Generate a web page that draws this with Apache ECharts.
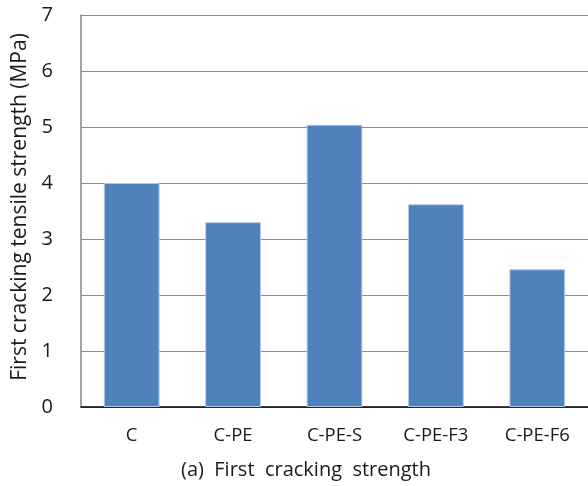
<!DOCTYPE html>
<html>
<head>
<meta charset="utf-8">
<script src="https://cdn.jsdelivr.net/npm/echarts@6/dist/echarts.min.js"></script>
<style>
  html, body { margin: 0; padding: 0; background: #fff; }
  #chart { width: 588px; height: 486px; }
</style>
</head>
<body>
<div id="chart"></div>
<script>
const categories = ['C', 'C-PE', 'C-PE-S', 'C-PE-F3', 'C-PE-F6']
const strength = [4.0, 3.3, 5.04, 3.62, 2.46]
const yTicks = [0, 1, 2, 3, 4, 5, 6, 7]

const chart = echarts.init(document.getElementById('chart'))
const font = '"Open Sans", "Noto Sans", sans-serif'

chart.setOption({
  backgroundColor: '#fff',
  animation: false,
  title: {
    text: '(a)  First  cracking  strength',
    left: 301,
    textAlign: 'center',
    top: 455,
    textStyle: { fontFamily: font, fontSize: 20, fontWeight: 'normal', color: '#1a1a1a' }
  },
  grid: { left: 81, right: 0, top: 15, bottom: 79, containLabel: false },
  xAxis: {
    type: 'category',
    data: categories,
    axisLine: { show: true, lineStyle: { color: '#000', width: 1.5 } },
    axisTick: { show: false },
    axisLabel: { margin: 19, fontFamily: font, fontSize: 18.5, color: '#1a1a1a' },
    splitLine: { show: false }
  },
  yAxis: {
    type: 'value',
    min: yTicks[0],
    max: yTicks[yTicks.length - 1],
    interval: 1,
    name: 'First cracking tensile strength (MPa)',
    nameLocation: 'middle',
    nameGap: 44,
    nameTextStyle: { fontFamily: font, fontSize: 21, color: '#1a1a1a', padding: [0, 0, 0, 8] },
    axisLine: { show: true, lineStyle: { color: '#888', width: 1.5 } },
    axisTick: { show: false },
    axisLabel: { margin: 28, fontFamily: font, fontSize: 20, color: '#1a1a1a' },
    splitLine: { show: true, lineStyle: { color: '#8c8c8c', width: 1.2 } }
  },
  series: [{
    type: 'bar',
    data: strength,
    barWidth: '55%',
    itemStyle: { color: '#4f81bd', borderColor: '#b4c8e6', borderWidth: 1 }
  }]
})
</script>
</body>
</html>
